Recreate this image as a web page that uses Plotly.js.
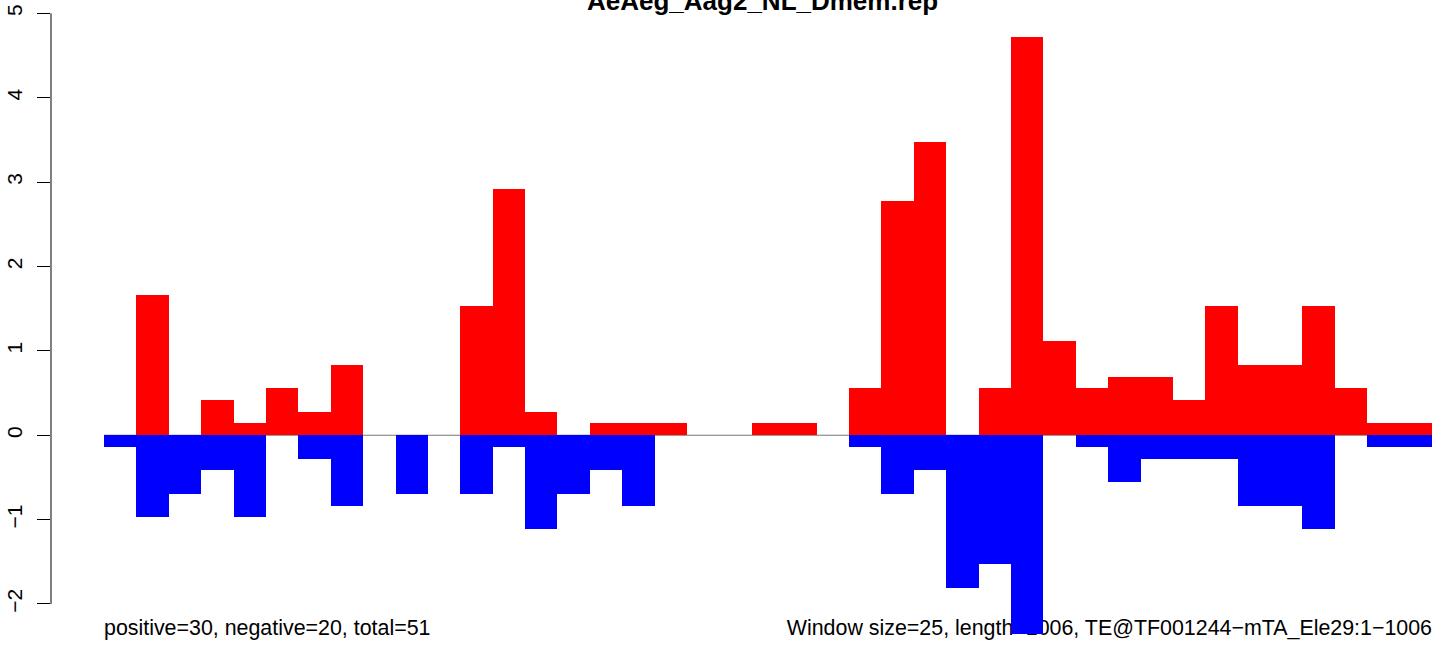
<!DOCTYPE html>
<html>
<head>
<meta charset="utf-8">
<script src="https://cdn.plot.ly/plotly-3.0.1.min.js"></script>
<style>html,body{margin:0;padding:0;background:#fff;}#chart{width:1444px;height:646px;}</style>
</head>
<body>
<div id="chart"></div>
<script>
// Window index (41 windows of size 25 over length 1006)
const windows = [1,2,3,4,5,6,7,8,9,10,11,12,13,14,15,16,17,18,19,20,21,22,23,24,25,26,27,28,29,30,31,32,33,34,35,36,37,38,39,40,41];
// Positive-strand values (red)
const positive = [0,1.667,0,0.417,0.139,0.556,0.278,0.833,0,0,0,1.528,2.917,0.278,0,0.139,0.139,0.139,0,0,0.139,0.139,0,0.556,2.778,3.472,0,0.556,4.722,1.111,0.556,0.694,0.694,0.417,1.528,0.833,0.833,1.528,0.556,0.139,0.139];
// Negative-strand values (blue)
const negative = [-0.139,-0.972,-0.694,-0.417,-0.972,0,-0.278,-0.833,0,-0.694,0,-0.694,-0.139,-1.111,-0.694,-0.417,-0.833,0,0,0,0,0,0,-0.139,-0.694,-0.417,-1.806,-1.528,-2.361,0,-0.139,-0.556,-0.278,-0.278,-0.278,-0.833,-0.833,-1.111,0,-0.139,-0.139];
const yTicks = [-2,-1,0,1,2,3,4,5];
const titleText = "AeAeg_Aag2_NL_Dmem.rep";
const leftNote = "positive=30, negative=20, total=51";
const rightNote = "Window size=25, length=1006, TE@TF001244\u2212mTA_Ele29:1\u22121006";

const xs = windows.map((w, i) => i);
const n = windows.length;
const FONT = "Liberation Sans, Arial, Helvetica, sans-serif";
const yRange = [-2.498, 5.158];

const traces = [
  {
    type: 'scatter', mode: 'text',
    x: [-0.5, n - 0.5], y: [-2.31, -2.31],
    text: [leftNote, rightNote],
    textposition: ['middle right', 'middle left'],
    textfont: {family: FONT, size: 21.4, color: '#000'},
    xaxis: 'x', yaxis: 'y', hoverinfo: 'skip', cliponaxis: false, showlegend: false
  },
  {
    type: 'bar', x: xs, y: positive, width: 1,
    marker: {color: '#FF0000', line: {width: 0}},
    xaxis: 'x', yaxis: 'y2', showlegend: false, hoverinfo: 'x+y'
  },
  {
    type: 'bar', x: xs, y: negative, width: 1,
    marker: {color: '#0000FF', line: {width: 0}},
    xaxis: 'x', yaxis: 'y2', showlegend: false, hoverinfo: 'x+y'
  }
];

const layout = {
  width: 1444, height: 646,
  margin: {l: 51, r: 0, t: 0, b: 0, pad: 0},
  paper_bgcolor: '#fff', plot_bgcolor: '#fff',
  barmode: 'overlay', bargap: 0,
  showlegend: false,
  xaxis: {range: [-2.136, 40.87], visible: false, showgrid: false, zeroline: false, fixedrange: true},
  yaxis: {
    range: yRange, tickvals: yTicks, ticktext: yTicks.map(v => v < 0 ? '\u2212' + Math.abs(v) : String(v)),
    ticks: 'outside', ticklen: 13, tickwidth: 1, tickcolor: '#000',
    showline: false, showgrid: false, zeroline: false, tickangle: -90, ticklabelstandoff: 7,
    tickfont: {family: FONT, size: 21, color: '#000'}, automargin: false, fixedrange: true
  },
  yaxis2: {range: yRange, overlaying: 'y', visible: false, showgrid: false, zeroline: false, fixedrange: true},
  shapes: [
    {type: 'line', xref: 'paper', yref: 'y', x0: 0, x1: 0, y0: yTicks[0], y1: yTicks[yTicks.length - 1], line: {color: '#000', width: 1}},
    {type: 'line', xref: 'x', yref: 'y2', x0: -0.5, x1: n - 0.5, y0: 0, y1: 0, line: {color: '#777777', width: 1}, layer: 'below'}
  ],
  annotations: [
    {text: '<b>' + titleText + '</b>', xref: 'paper', yref: 'paper', x: 0.5111, y: 0.9985, xanchor: 'center', yanchor: 'middle', showarrow: false, font: {family: FONT, size: 26, color: '#000'}}
  ]
};

Plotly.newPlot('chart', traces, layout, {displayModeBar: false, staticPlot: true});
</script>
</body>
</html>
